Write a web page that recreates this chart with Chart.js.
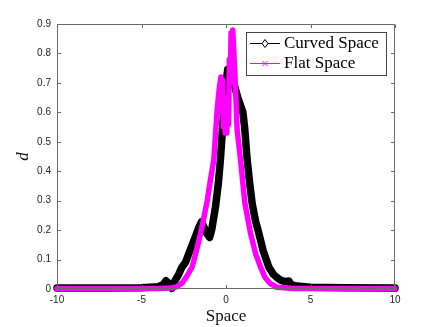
<!DOCTYPE html>
<html>
<head>
<meta charset="utf-8">
<script src="https://cdn.jsdelivr.net/npm/chart.js@4"></script>
<style>
html,body{margin:0;padding:0;background:#fff;}
#wrap{width:436px;height:327px;}
</style>
</head>
<body>
<div id="wrap"><canvas id="c" width="436" height="327"></canvas></div>
<script>
// Curved Space series
const curvedX = [-10,-7,-5,-4,-3.7,-3.55,-3.4,-3.2,-3.0,-2.8,-2.6,-2.4,-2.2,-2.0,-1.8,-1.6,-1.45,-1.3,-1.15,-0.97,-0.85,-0.62,-0.45,-0.33,-0.2,-0.13,0.0,0.1,0.25,0.45,0.7,1.0,1.1,1.25,1.4,1.55,1.75,1.94,2.2,2.53,2.8,3.0,3.22,3.5,3.72,3.85,4.2,5,7,10];
const curvedY = [0.003,0.003,0.004,0.008,0.016,0.028,0.02,0.002,0.03,0.05,0.075,0.09,0.12,0.15,0.18,0.21,0.228,0.21,0.19,0.175,0.2,0.28,0.36,0.44,0.55,0.61,0.7,0.745,0.73,0.7,0.65,0.6,0.55,0.44,0.36,0.29,0.23,0.19,0.13,0.075,0.05,0.04,0.03,0.025,0.027,0.015,0.01,0.006,0.004,0.003];
// Flat Space series
const flatX = [-10,-6,-4,-3.2,-2.9,-2.6,-2.3,-2.0,-1.75,-1.5,-1.3,-1.11,-0.95,-0.72,-0.52,-0.4,-0.3,-0.25,-0.2,-0.15,-0.1,-0.05,0.0,0.05,0.1,0.15,0.2,0.25,0.3,0.35,0.4,0.45,0.55,0.66,0.86,1.12,1.45,1.75,2.04,2.3,2.63,3.0,4,10];
const flatY = [0.002,0.002,0.002,0.003,0.008,0.02,0.045,0.075,0.13,0.19,0.245,0.3,0.36,0.44,0.61,0.68,0.72,0.6,0.71,0.55,0.62,0.53,0.6,0.53,0.65,0.56,0.78,0.7,0.87,0.8,0.88,0.82,0.7,0.54,0.438,0.29,0.19,0.12,0.075,0.04,0.018,0.006,0.002,0.002];
const xTicks = [-10,-5,0,5,10];
const yTicks = [0,0.1,0.2,0.3,0.4,0.5,0.6,0.7,0.8,0.9];
const seriesNames = ['Curved Space','Flat Space'];

const toPts = (xs, ys) => xs.map((x, i) => ({x: x, y: ys[i]}));

const frame = {
  id: 'frame',
  afterDraw(chart) {
    const ctx = chart.ctx, a = chart.chartArea;
    const xs = chart.scales.x, ys = chart.scales.y;
    const L = Math.round(a.left) + 0.5, R = Math.round(a.right) - 0.5;
    const T = Math.round(a.top) + 0.5, B = Math.round(a.bottom) - 0.5;
    ctx.save();
    ctx.strokeStyle = '#6a6a6a';
    ctx.lineWidth = 1;
    ctx.beginPath();
    ctx.rect(L, T, R - L, B - T);
    const tl = 3.5;
    xTicks.forEach(v => {
      const px = Math.round(xs.getPixelForValue(v)) + 0.5;
      ctx.moveTo(px, B); ctx.lineTo(px, B - tl);
      ctx.moveTo(px, T); ctx.lineTo(px, T + tl);
    });
    yTicks.forEach(v => {
      const py = Math.round(ys.getPixelForValue(v)) + 0.5;
      ctx.moveTo(L, py); ctx.lineTo(L + tl, py);
      ctx.moveTo(R, py); ctx.lineTo(R - tl, py);
    });
    ctx.stroke();

    // axis titles
    ctx.fillStyle = '#111';
    ctx.font = '17px "Liberation Serif"';
    ctx.textAlign = 'center';
    ctx.textBaseline = 'middle';
    ctx.fillText('Space', (a.left + a.right) / 2, 317);
    ctx.save();
    ctx.translate(24, (a.top + a.bottom) / 2);
    ctx.rotate(-Math.PI / 2);
    ctx.font = 'italic 17px "Liberation Serif"';
    ctx.fillText('d', 0, 0);
    ctx.restore();

    // legend
    const bx = 246.5, by = 32.5, bw = 140, bh = 43;
    ctx.fillStyle = '#fff';
    ctx.fillRect(bx, by, bw, bh);
    ctx.strokeStyle = '#444';
    ctx.strokeRect(bx, by, bw, bh);
    const rows = [43.5, 63.5];
    // row 1: black line + diamond
    ctx.lineWidth = 1;
    ctx.strokeStyle = '#000';
    ctx.beginPath(); ctx.moveTo(250, rows[0]); ctx.lineTo(280, rows[0]); ctx.stroke();
    ctx.fillStyle = '#fff';
    ctx.beginPath();
    ctx.moveTo(265, rows[0] - 4); ctx.lineTo(268, rows[0]); ctx.lineTo(265, rows[0] + 4); ctx.lineTo(262, rows[0]); ctx.closePath();
    ctx.fill(); ctx.stroke();
    // row 2: magenta line + x
    ctx.strokeStyle = '#ff00ff';
    ctx.beginPath(); ctx.moveTo(250, rows[1]); ctx.lineTo(280, rows[1]); ctx.stroke();
    ctx.beginPath();
    ctx.moveTo(262.5, rows[1] - 2.5); ctx.lineTo(267.5, rows[1] + 2.5);
    ctx.moveTo(262.5, rows[1] + 2.5); ctx.lineTo(267.5, rows[1] - 2.5);
    ctx.stroke();
    ctx.fillStyle = '#000';
    ctx.font = '17px "Liberation Serif"';
    ctx.textAlign = 'left';
    ctx.textBaseline = 'middle';
    ctx.fillText(seriesNames[0], 284, rows[0] + 0.5);
    ctx.fillText(seriesNames[1], 284, rows[1] + 0.5);
    ctx.restore();
  }
};

new Chart(document.getElementById('c'), {
  type: 'scatter',
  data: {
    datasets: [
      {
        label: seriesNames[0],
        data: toPts(curvedX, curvedY),
        showLine: true,
        borderColor: '#000',
        backgroundColor: '#000',
        borderWidth: 7.5,
        borderCapStyle: 'round',
        borderJoinStyle: 'round',
        pointRadius: 0,
        tension: 0,
        order: 2,
        clip: 6
      },
      {
        label: seriesNames[1],
        data: toPts(flatX, flatY),
        showLine: true,
        borderColor: '#ff00ff',
        backgroundColor: '#ff00ff',
        borderWidth: 5.5,
        borderCapStyle: 'round',
        borderJoinStyle: 'round',
        pointRadius: 0,
        tension: 0,
        order: 1,
        clip: 6
      }
    ]
  },
  options: {
    responsive: false,
    animation: false,
    events: [],
    layout: { padding: { left: 0, top: 24, right: 41, bottom: 0 } },
    plugins: { legend: { display: false }, tooltip: { enabled: false }, title: { display: false } },
    scales: {
      x: {
        type: 'linear', min: -10, max: 10,
        afterBuildTicks: s => { s.ticks = xTicks.map(v => ({value: v})); },
        afterFit: s => { s.height = 38; },
        grid: { display: false, drawTicks: false },
        border: { display: false },
        ticks: { color: '#262626', font: { family: '"Liberation Sans"', size: 10 }, padding: 5, maxRotation: 0 }
      },
      y: {
        type: 'linear', min: 0, max: 0.9,
        afterBuildTicks: s => { s.ticks = yTicks.map(v => ({value: v})); },
        afterFit: s => { s.width = 57; },
        grid: { display: false, drawTicks: false },
        border: { display: false },
        ticks: { color: '#262626', font: { family: '"Liberation Sans"', size: 10 }, padding: 6 }
      }
    }
  },
  plugins: [frame]
});
</script>
</body>
</html>
